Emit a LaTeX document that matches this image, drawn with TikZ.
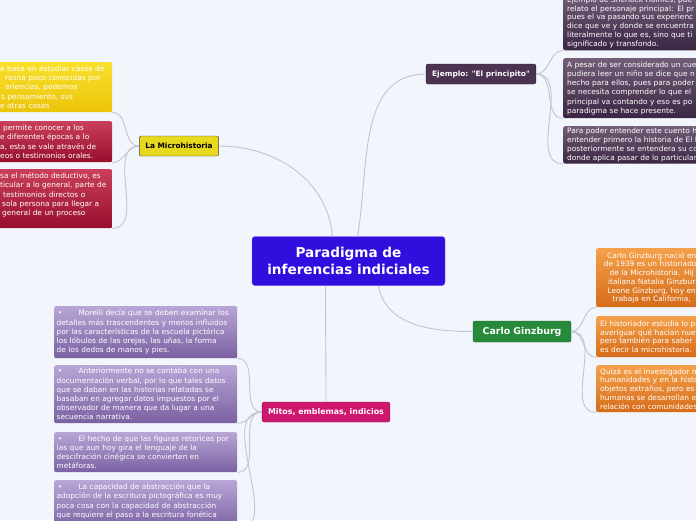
\documentclass[tikz,border=0pt]{standalone}
\usepackage{fontspec}
\setmainfont{DejaVu Sans}

\definecolor{bgblue}{RGB}{242,245,251}
\definecolor{linkgray}{RGB}{192,197,208}
\definecolor{hubblue}{RGB}{49,14,222}
\definecolor{microyellow}{RGB}{232,216,30}
\definecolor{ejpurple}{RGB}{74,52,82}
\definecolor{carlogreen}{RGB}{38,138,58}
\definecolor{mitosred}{RGB}{206,24,112}
\definecolor{yeltop}{RGB}{248,224,44}
\definecolor{yelbot}{RGB}{236,196,10}
\definecolor{redtop}{RGB}{202,64,90}
\definecolor{redbot}{RGB}{150,14,44}
\definecolor{darktop}{RGB}{114,94,120}
\definecolor{darkbot}{RGB}{58,38,66}
\definecolor{orgtop}{RGB}{244,160,74}
\definecolor{orgbot}{RGB}{214,108,26}
\definecolor{lavtop}{RGB}{184,166,214}
\definecolor{lavbot}{RGB}{122,96,162}

\newcommand\leaffont{\fontsize{7.4}{9.2}\selectfont}
\newcommand\tightfont{\fontsize{7.4}{8.75}\selectfont}

\tikzset{
  hub/.style={rounded corners=3pt, fill=hubblue, draw=hubblue!70!white,
    text=white, align=center, minimum width=193, minimum height=49,
    font=\bfseries\fontsize{13.6}{17.5}\selectfont},
  topic/.style={rounded corners=2pt, inner xsep=6, minimum height=20,
    font=\bfseries\fontsize{7.4}{9}\selectfont},
  leaf/.style={rounded corners=2pt, text=white, align=left,
    inner xsep=3, inner ysep=2, font=\leaffont},
  link/.style={draw=linkgray, line width=0.9pt},
}

\begin{document}
\begin{tikzpicture}[x=1pt,y=-1pt]
  % canvas
  \fill[bgblue] (0,0) rectangle (696,520);
  \useasboundingbox (0,0) rectangle (696,520);
  \clip (0,0) rectangle (696,520);

  % central idea
  \node[hub] (hub) at (348.5,261) {Paradigma de\\inferencias indiciales};

  % main topics
  \node[topic, fill=microyellow, draw=black!75, text=black] (micro) at (179,146) {La Microhistoria};
  \node[topic, fill=ejpurple, draw=ejpurple!60!black, text=white] (ejemplo) at (481,74)
    {Ejemplo: \textquotedbl El principito\textquotedbl};
  \node[topic, fill=carlogreen, draw=carlogreen!70!black, text=white, minimum width=98, minimum height=21,
    font=\bfseries\fontsize{9.4}{11}\selectfont] (carlo) at (522,331.5) {Carlo Ginzburg};
  \node[topic, fill=mitosred, draw=mitosred!70!black, text=white,
    font=\bfseries\fontsize{7.9}{9}\selectfont] (mitos) at (326,412) {Mitos, emblemas, indicios};

  % La Microhistoria leaves
  \node[leaf, top color=yeltop, bottom color=yelbot, anchor=north west, text width=110, minimum height=50] (mh1) at (-4,62)
    {\hspace*{1pt}e basa en estudiar casos de\\
     \hspace*{6pt}rsona poco conocidas por\\
     \hspace*{6pt}eriencias, podemos\\
     \hspace*{2pt}s pensamiento, sus\\
     \hspace*{1pt}e otras cosas};
  \node[leaf, top color=redtop, bottom color=redbot, anchor=north west, text width=110, minimum height=41] (mh2) at (-4,121)
    {\hspace*{4pt}permite conocer a los\\
     \hspace*{1pt}e diferentes épocas a lo\\
     \hspace*{1pt}a, esta se vale através de\\
     \hspace*{1pt}eos o testimonios orales.};
  \node[leaf, top color=redtop, bottom color=redbot, anchor=north west, text width=110, minimum height=59] (mh3) at (-4,169)
    {\hspace*{1pt}sa el método deductivo, es\\
     \hspace*{1pt}ticular a lo general, parte de\\
     \hspace*{4pt}testimonios directos o\\
     \hspace*{3pt}sola persona para llegar a\\
     \hspace*{3pt}general de un proceso\\
     \mbox{}};

  % Ejemplo leaves
  \node[leaf, top color=darktop, bottom color=darkbot, anchor=south west, text width=200, minimum height=56,
    inner xsep=4, font=\tightfont] (ej1) at (563,50.5)
    {Ejemplo de Sherlock Holmes, pue\\
     relato el personaje principal: El pr\\
     pues el va pasando sus experienc\\
     dice que ve y donde se encuentra\\
     literalmente lo que es, sino que ti\\
     significado y transfondo.};
  \node[leaf, top color=darktop, bottom color=darkbot, anchor=north west, text width=200, minimum height=60, inner xsep=4] (ej2) at (563,58)
    {A pesar de ser considerado un cue\\
     pudiera leer un niño se dice que n\\
     hecho para ellos, pues para poder\\
     se necesita comprender lo que el\\
     principal va contando y eso es po\\
     paradigma se hace presente.};
  \node[leaf, top color=darktop, bottom color=darkbot, anchor=north west, text width=200, minimum height=35,
    inner xsep=4, font=\tightfont] (ej3) at (563,126)
    {Para poder entender este cuento ha\\
     entender primero la historia de El Pr\\
     posteriormente se entendera su con\\
     donde aplica pasar de lo particular a};

  % Carlo Ginzburg leaves
  \node[leaf, top color=orgtop, bottom color=orgbot, anchor=north west, text width=103, minimum height=59,
    inner xsep=4, align=center, font=\tightfont] (cg1) at (596,248)
    {Carlo Ginzburg nació en\\
     de 1939 es un historiador\\
     de la Microhistoria. Hij\\
     italiana Natalia Ginzbur\\
     Leone Ginzburg, hoy en\\
     trabaja en California,};
  \node[leaf, top color=orgtop, bottom color=orgbot, anchor=north west, text width=200, minimum height=41,
    inner xsep=4, font=\tightfont] (cg2) at (596,316)
    {El historiador estudia lo p\\
     averiguar qué hacían nue\\
     pero también para saber\\
     es decir la microhistoria.};
  \node[leaf, top color=orgtop, bottom color=orgbot, anchor=north west, text width=200, minimum height=47,
    inner xsep=4, font=\tightfont] (cg3) at (596,365)
    {Quizá es el investigador m\\
     humanidades y en la histo\\
     objetos extraños, pero es\\
     humanas se desarrollan e\\
     relación con comunidades};

  % Mitos, emblemas, indicios leaves
  \node[leaf, top color=lavtop, bottom color=lavbot, anchor=north west, text width=178, minimum height=52, inner xsep=2.5] (mt1) at (54,306)
    {\hspace*{1.5pt}\textbullet\hspace{16pt}Morelli decía que se deben examinar los\\
     detalles más trascendentes y menos influidos\\
     por las características de la escuela pictórica\\
     los lóbulos de las orejas, las uñas, la forma\\
     de los dedos de manos y pies.};
  \node[leaf, top color=lavtop, bottom color=lavbot, anchor=north west, text width=178, minimum height=58, inner xsep=2.5] (mt2) at (54,365)
    {\hspace*{1.5pt}\textbullet\hspace{16pt}Anteriormente no se contaba con una\\
     documentación verbal, por lo que tales datos\\
     que se daban en las historias relatadas se\\
     basaban en agregar datos impuestos por el\\
     observador de manera que da lugar a una\\
     secuencia narrativa.};
  \node[leaf, top color=lavtop, bottom color=lavbot, anchor=north west, text width=178, minimum height=40, inner xsep=2.5] (mt3) at (54,432)
    {\hspace*{1.5pt}\textbullet\hspace{16pt}El hecho de que las figuras retoricas por\\
     las que aun hoy gira el lenguaje de la\\
     descifración cinégica se convierten en\\
     metáforas.};
  \node[leaf, top color=lavtop, bottom color=lavbot, anchor=north west, text width=178, minimum height=50, inner xsep=2.5] (mt4) at (54,480)
    {\hspace*{1.5pt}\textbullet\hspace{16pt}La capacidad de abstracción que la\\
     adopción de la escritura pictográfica es muy\\
     poca cosa con la capacidad de abstracción\\
     que requiere el paso a la escritura fonética\\
     \mbox{}};

  % links from the central idea
  \draw[link] ([xshift=-16]hub.north) to[out=95,in=0] (micro.east);
  \draw[link] ([xshift=9]hub.north) to[out=80,in=180] (ejemplo.west);
  \draw[link] ([xshift=30]hub.south) to[out=-80,in=180] (carlo.west);
  \draw[link] ([xshift=-23]hub.south) to[out=-90,in=90] (mitos.north);

  % links to the leaves
  \foreach \leafnode in {mh1,mh2,mh3}
    \draw[link] (micro.west) to[out=180,in=0] (\leafnode.south east);
  \foreach \leafnode in {ej1,ej2,ej3}
    \draw[link] (ejemplo.east) to[out=0,in=180] (\leafnode.south west);
  \foreach \leafnode in {cg1,cg2,cg3}
    \draw[link] (carlo.east) to[out=0,in=180] (\leafnode.south west);
  \foreach \leafnode in {mt1,mt2,mt3,mt4}
    \draw[link] (mitos.west) to[out=180,in=0] (\leafnode.south east);
\end{tikzpicture}
\end{document}
